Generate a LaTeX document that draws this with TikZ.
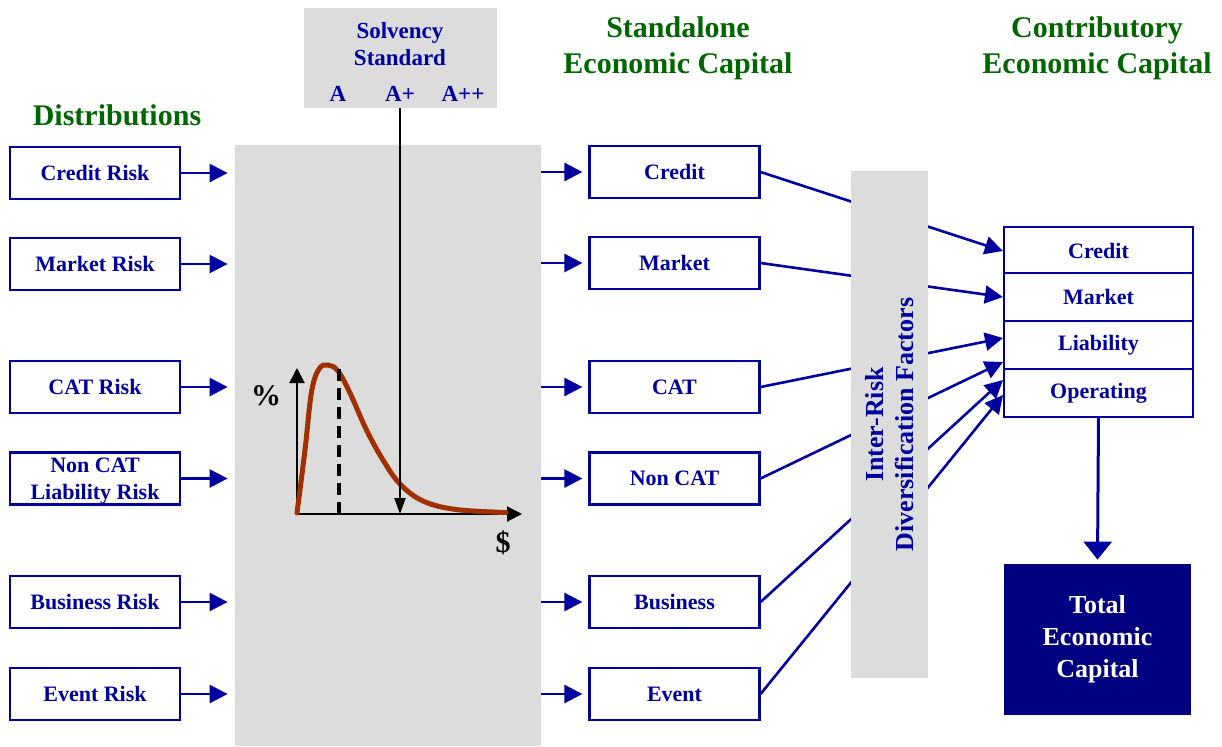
\documentclass[tikz,border=0pt]{standalone}
\usepackage{fontspec}
\setmainfont{Liberation Serif}
\usetikzlibrary{arrows.meta}
\definecolor{riskblue}{RGB}{0,0,160}
\definecolor{navybox}{RGB}{0,0,128}
\definecolor{headgreen}{RGB}{0,102,0}
\definecolor{panelgray}{RGB}{220,220,220}
\definecolor{curvebrown}{RGB}{160,48,0}

\begin{document}
\begin{tikzpicture}[x=0.5pt,y=-0.5pt,
  riskbox/.style={draw=riskblue,line width=1.1pt,fill=white,text=riskblue,
    font=\bfseries\fontsize{11}{13.5}\selectfont,minimum width=85pt,
    minimum height=26pt,inner sep=0pt,align=center},
  capbox/.style={riskbox,minimum width=94.5pt,minimum height=24pt},
  heading/.style={text=headgreen,font=\bfseries\fontsize{15}{18}\selectfont,align=center},
  bluetext/.style={text=riskblue,font=\bfseries\fontsize{11.5}{13.5}\selectfont,align=center},
  flow/.style={riskblue,line width=1.3pt,-{Triangle[length=9pt,width=9pt]}},
  graybox/.style={fill=panelgray,inner sep=0pt},
  axis/.style={line width=1pt,-{Triangle[length=7.5pt,width=7.5pt]}}]
\useasboundingbox (0,0) rectangle (1222,746);

% Headings
\node[heading] (hdist) at (117,115) {Distributions};
\node[heading] (hstand) at (678,48) {Standalone\\Economic Capital};
\node[heading] (hcontr) at (1097,48) {Contributory\\Economic Capital};

% Gray panel and solvency standard
\node[graybox,minimum width=153pt,minimum height=300.5pt] (panel) at (388,445.5) {};
\node[graybox,minimum width=96.5pt,minimum height=50pt] (solv) at (400.5,58) {};
\node[bluetext] (stitle) at (400,44) {Solvency\\Standard};
\node[bluetext] (sa) at (338,94) {A};
\node[bluetext] (sap) at (400,94) {A+};
\node[bluetext] (sapp) at (463,94) {A++};

% Loss distribution
\coordinate (o) at (297,514);
\draw[axis] (o) -- (297,368);
\draw[axis] (o) -- (522,514);
\node[font=\bfseries\fontsize{15}{15}\selectfont] (pct) at (266,396) {\%};
\node[font=\bfseries\fontsize{15}{15}\selectfont] (dol) at (503,543) {\$};
\draw[curvebrown,line width=2.5pt,line cap=round] plot[smooth,tension=0.6] coordinates
  {(297,513) (305,450) (311.5,392) (319,369) (328,365) (338,371) (350,393)
   (366.5,430) (383,460) (400,484) (423,501) (456,509.5) (506,512.5)};
\draw[line width=1.6pt,dash pattern=on 6pt off 3.5pt] (o -| 339,0) -- (339,368);
\draw[line width=1pt,-{Triangle[length=8pt,width=5.5pt]}] (solv.south -| sap) -- (sap |- o);

% Distributions
\node[riskbox] (dcredit) at (95,173) {Credit Risk};
\node[riskbox] (dmarket) at (95,264) {Market Risk};
\node[riskbox] (dcat) at (95,387) {CAT Risk};
\node[riskbox,text depth=0pt] (dnoncat) at (95,478.5) {Non CAT\\Liability Risk};
\node[riskbox] (dbus) at (95,602) {Business Risk};
\node[riskbox] (devent) at (95,694) {Event Risk};

% Standalone economic capital
\node[riskbox] (scredit) at (674.5,172) {Credit};
\node[riskbox] (smarket) at (674.5,263) {Market};
\node[riskbox] (scat) at (674.5,387) {CAT};
\node[riskbox] (snoncat) at (674.5,478.5) {Non CAT};
\node[riskbox] (sbus) at (674.5,602) {Business};
\node[riskbox] (sevent) at (674.5,694) {Event};

% Contributory economic capital
\node[capbox] (ccredit) at (1098.5,251) {Credit};
\node[capbox] (cmarket) at (1098.5,297) {Market};
\node[capbox] (cliab) at (1098.5,345) {Liability};
\node[capbox] (coper) at (1098.5,393) {Operating};
\node[fill=navybox,text=white,font=\bfseries\fontsize{13}{16}\selectfont,align=center,
  minimum width=93.5pt,minimum height=75.5pt,inner sep=0pt] (total) at (1097.5,639.5)
  {Total\\Economic\\Capital};

% Arrows into and out of the panel
\draw[flow,shorten >=3.5pt] (dcredit.east) -- (dcredit.east -| panel.west);
\draw[flow,shorten >=3.5pt] (dmarket.east) -- (dmarket.east -| panel.west);
\draw[flow,shorten >=3.5pt] (dcat.east) -- (dcat.east -| panel.west);
\draw[flow,shorten >=3.5pt] (dnoncat.east) -- (dnoncat.east -| panel.west);
\draw[flow,shorten >=3.5pt] (dbus.east) -- (dbus.east -| panel.west);
\draw[flow,shorten >=3.5pt] (devent.east) -- (devent.east -| panel.west);
\draw[flow,shorten >=3pt] (scredit.west -| panel.east) -- (scredit.west);
\draw[flow,shorten >=3pt] (smarket.west -| panel.east) -- (smarket.west);
\draw[flow,shorten >=3pt] (scat.west -| panel.east) -- (scat.west);
\draw[flow,shorten >=3pt] (snoncat.west -| panel.east) -- (snoncat.west);
\draw[flow,shorten >=3pt] (sbus.west -| panel.east) -- (sbus.west);
\draw[flow,shorten >=3pt] (sevent.west -| panel.east) -- (sevent.west);

% Diversification links
\coordinate (tcat) at (1003,338);
\coordinate (tnoncat) at (1003,362);
\coordinate (tbus) at (1003,380);
\coordinate (tevent) at (1003,395);
\draw[flow] (scredit.east) -- (ccredit.west);
\draw[flow] (smarket.east) -- (cmarket.west);
\draw[flow] (scat.east) -- (tcat);
\draw[flow] (snoncat.east) -- (tnoncat);
\draw[flow] (sbus.east) -- (tbus);
\draw[flow] (sevent.east) -- (tevent);
\node[graybox,rotate=90,minimum width=253.5pt,minimum height=38.5pt,text=riskblue,
  font=\bfseries\fontsize{13}{15}\selectfont,align=center] (inter) at (889.5,424.5)
  {Inter-Risk\\Diversification Factors};

% Total
\draw[riskblue,line width=1.5pt,-{Triangle[length=9pt,width=14pt]},shorten >=2pt]
  (coper.south) -- (total.north);
\end{tikzpicture}
\end{document}
